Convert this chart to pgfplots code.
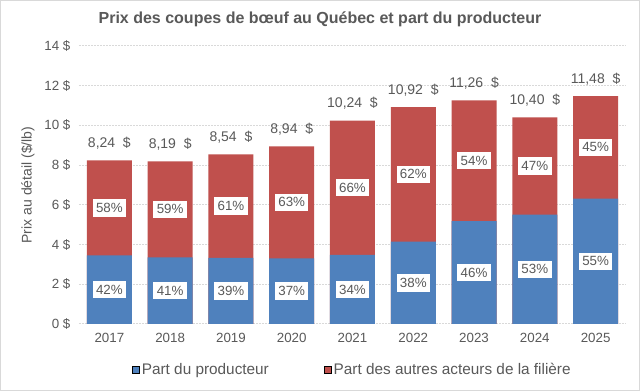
\documentclass[border=0pt]{standalone}
\usepackage{pgfplots}
\pgfplotsset{compat=1.18}
\usepackage{pgfplotstable}
\usepackage{fontspec}
\setmainfont{Liberation Sans}
\definecolor{txt}{HTML}{595959}
\definecolor{cblue}{HTML}{4F81BD}
\definecolor{cred}{HTML}{C0504D}
\definecolor{gridc}{HTML}{D9D9D9}
\definecolor{borderc}{HTML}{D9D9D9}

\pgfplotstableread{
x year total prod pp po
0 2017 8.24 3.46 42 58
1 2018 8.19 3.36 41 59
2 2019 8.54 3.33 39 61
3 2020 8.94 3.31 37 63
4 2021 10.24 3.48 34 66
5 2022 10.92 4.15 38 62
6 2023 11.26 5.18 46 54
7 2024 10.40 5.51 53 47
8 2025 11.48 6.31 55 45
}\data

\begin{document}
\begin{tikzpicture}
\useasboundingbox (0,0) rectangle (480pt,293.25pt);
\fill[white] (0,0) rectangle (480pt,293.25pt);
\draw[borderc, line width=0.75pt] (0.375pt,0.375pt) rectangle (479.625pt,292.875pt);
\begin{axis}[
  at={(59.25pt,50.25pt)}, anchor=south west,
  scale only axis, width=410.25pt, height=208.5pt,
  xmin=-0.5, xmax=8.5, ymin=0, ymax=14,
  xtick={0,...,8},
  xticklabels={2017,2018,2019,2020,2021,2022,2023,2024,2025},
  ytick={0,2,...,14},
  yticklabel={\pgfmathprintnumber{\tick}~\$},
  /pgf/number format/assume math mode=true,
  major tick length=0pt,
  axis line style={draw=none},
  ymajorgrids,
  grid style={gridc, line width=0.75pt, dash pattern=on 1.5pt off 0.75pt},
  tick label style={font=\fontsize{10}{12}\selectfont, text=txt},
  xticklabel style={yshift=-3.5pt},
  yticklabel style={xshift=-3pt},
  clip=false,
  legend style={at={(0.5,-0.165)}, anchor=center, draw=none, fill=none,
    font=\fontsize{11.5}{13}\selectfont, text=txt, legend columns=2,
    /tikz/every even column/.append style={column sep=39pt},
    inner sep=0pt},
  legend image code/.code={\fill[#1] (0pt,-2.6pt) rectangle (5.25pt,2.6pt);},
  legend cell align=left,
]
\addplot[ybar, bar width=33.75pt, bar shift=0pt, fill=cred, draw=none, forget plot,
  point meta=y,
  nodes near coords={\pgfmathprintnumber[fixed,fixed zerofill,precision=2,use comma]{\pgfplotspointmeta}\ \ \$},
  every node near coord/.append style={font=\fontsize{10.5}{12}\selectfont, text=txt, anchor=center, yshift=12.75pt}]
  table[x=x, y=total]{\data};
\addplot[ybar, bar width=33.75pt, bar shift=0pt, fill=cblue, draw=none, forget plot]
  table[x=x, y=prod]{\data};
\addplot[only marks, mark=*, mark size=0pt, mark options={draw=none, fill=none}, forget plot,
  point meta=explicit,
  nodes near coords={\pgfmathprintnumber{\pgfplotspointmeta}\%},
  every node near coord/.append style={font=\fontsize{10}{12}\selectfont, text=txt, anchor=center, fill=white, inner xsep=2.5pt, inner ysep=3pt}]
  table[x=x, y expr=\thisrow{prod}/2, meta=pp]{\data};
\addplot[only marks, mark=*, mark size=0pt, mark options={draw=none, fill=none}, forget plot,
  point meta=explicit,
  nodes near coords={\pgfmathprintnumber{\pgfplotspointmeta}\%},
  every node near coord/.append style={font=\fontsize{10}{12}\selectfont, text=txt, anchor=center, fill=white, inner xsep=2.5pt, inner ysep=3pt}]
  table[x=x, y expr=\thisrow{prod}+(\thisrow{total}-\thisrow{prod})/2, meta=po]{\data};
\addlegendimage{fill=cblue}
\addlegendentry{Part du producteur}
\addlegendimage{fill=cred}
\addlegendentry{Part des autres acteurs de la filière}
\end{axis}
\node[font=\fontsize{12}{14}\selectfont\bfseries, text=txt] at (240pt,279pt) {Prix des coupes de bœuf au Québec et part du producteur};
\node[font=\fontsize{10.5}{12}\selectfont, text=txt, rotate=90] at (21pt,154.5pt) {Prix au détail (\$/lb)};
\end{tikzpicture}
\end{document}
